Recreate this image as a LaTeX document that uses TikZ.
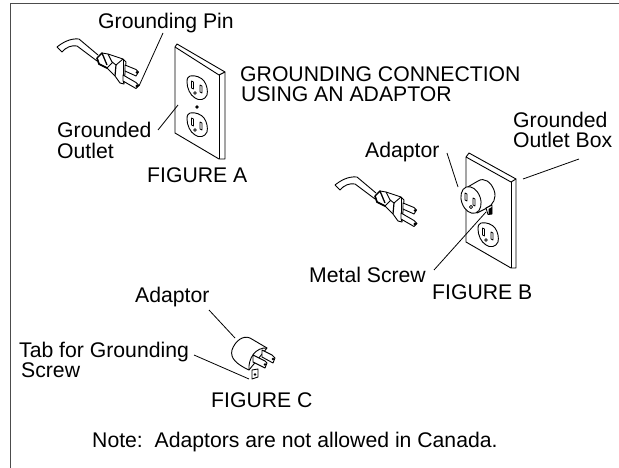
\documentclass[tikz,border=0pt]{standalone}
\usepackage{fontspec}
\setmainfont{Liberation Sans}
\newcommand{\plugshape}{%
  \draw[obj] (57,47) .. controls (62,43) and (70,38) .. (79,39) -- (98,55);
  \draw[obj] (57,47) -- (62,52) .. controls (66,47) and (72,45) .. (77,46) -- (97,61);
  \draw[obj,fill=white] (97,58) -- (102,53) -- (108,54) -- (123,59) -- (126,62) -- (124,84) -- (120,83) -- (115,76) -- (107,68) -- (99,64) -- cycle;
  \draw[line width=1.7pt,line join=round] (97,58) -- (99,64) -- (107,68);
  \draw[line width=1.3pt,line join=round] (97,58) -- (102,53) -- (107,65);
  \draw[obj] (108,54) -- (112,62) -- (116,65);
  \draw[obj] (107,68) -- (113,62);
  \draw[obj] (116,65) -- (123,59);
  \draw[line width=1.2pt] (116,65) -- (115,76);
  \draw[obj] (123,59) -- (123,83);
  \draw[obj,fill=white] (125,65) -- (136,69.5) -- (138.5,72) -- (136,76) -- (125,71) -- cycle;
  \draw[obj,fill=white] (123,75) -- (136,82.5) -- (139,85.5) -- (136,88.5) -- (123,81) -- cycle;
  \fill (137,72.5) circle (1.5) (137,86) circle (1.7);
}
\newcommand{\socket}[1]{%
  \begin{scope}[shift={(#1)}]
    \draw[obj] (-7,-12) .. controls (-2,-13) and (4,-11) .. (7,-7) .. controls (10,-3) and (11,3) .. (10,7) .. controls (8,12) and (2,13) .. (-2,10) .. controls (-7,7) and (-10,0) .. (-10,-6) .. controls (-10,-10) and (-9,-11) .. (-7,-12) -- cycle;
    \draw[slot] (-5.5,-7) -- (-5.5,0) -- (-3.5,1) -- (-3.5,-6) -- cycle;
    \draw[slot] (3,-3) -- (3,4) -- (5,5) -- (5,-2) -- cycle;
    \draw[slot] (-2,5) circle (1.4);
  \end{scope}}
\tikzset{
  lbl/.style={anchor=base west,inner sep=0pt,font=\fontsize{21.2}{24}\selectfont},
  obj/.style={line width=0.9pt,line join=round},
  slot/.style={line width=0.7pt,line join=round},
  lead/.style={line width=0.8pt},
  frame/.style={line width=1.2pt,draw=black!70}
}
\begin{document}
\begin{tikzpicture}[x=1pt,y=-1pt]
\useasboundingbox (0,0) rectangle (619,468);
\fill[white] (0,0) rectangle (619,468);
\coordinate (fa) at (10.5,468); \coordinate (fb) at (10.5,3.5); \coordinate (fc) at (619,3.5);
\draw[frame] (fa) -- (fb) -- (fc);

\plugshape
\begin{scope}[shift={(278,138)}]\plugshape\end{scope}

% outlet A
\draw[obj] (175,47) -- (177,44) -- (225,72) -- (225,159) -- (219,159) -- (175,133) -- cycle;
\draw[obj] (175,47) -- (219,75) -- (225,72);
\draw[obj] (219,75) -- (219,159);
\socket{197,88}
\socket{197,125}
\fill (197,107) circle (1.8);

% outlet B
\draw[obj] (466,157) -- (469,153) -- (516,179) -- (516,268) -- (511,268) -- (466,242) -- cycle;
\draw[obj] (466,157) -- (511,182) -- (516,179);
\draw[obj] (511,182) -- (511,268);
\socket{488,235}
% adaptor B
\draw[obj,fill=white] (466,188) -- (478,181) .. controls (484,177) and (491,182) .. (494,190) .. controls (497,198) and (493,205) .. (487,208) -- (477,213) -- cycle;
\draw[obj,fill=white] (486,208) -- (492,205) -- (492,214) -- (488,214.5) -- cycle;
\fill (488.5,209) -- (492,207) -- (492,214) -- (488.5,214.5) -- cycle;
\draw[obj,fill=white,rotate around={20:(471,200)}] (471,200) ellipse (9.5 and 13.8);
\draw[slot] (465,193) -- (465,200) -- (467,201) -- (467,194) -- cycle;
\draw[slot] (473,198) -- (473,205) -- (475,206) -- (475,199) -- cycle;
\draw[slot] (471,207) circle (1.6);

% adaptor C
\draw[obj,fill=white] (267,348) -- (250,338) .. controls (243,335) and (235,341) .. (232,350) .. controls (230,358) and (236,364) .. (249,370) -- cycle;
\draw[obj] (267,348) .. controls (256,347) and (248,358) .. (249,370);
\draw[obj,fill=white] (252,370) -- (258,369) -- (258,377) -- (252,379) -- cycle;
\fill (255,374.5) circle (1.3);
\draw[obj,fill=white] (262,350) -- (272,355) -- (275,358) -- (273,363) -- (262,357) -- cycle;
\draw[obj,fill=white] (253,355) -- (265,361) -- (267,363) -- (265,368) -- (253,362) -- cycle;
\fill (273,359) circle (1.4) (265,364.5) circle (1.4);

% labels
\node[lbl] (tpin) at (98,29) {Grounding Pin};
\node[lbl] (tgr) at (57,138) {Grounded};
\node[lbl] (tout) at (57,159) {Outlet};
\node[lbl] (tfa) at (147,183) {FIGURE A};
\node[lbl] (tcon) at (240,82) {GROUNDING CONNECTION};
\node[lbl] (tusi) at (241,102) {USING AN ADAPTOR};
\node[lbl] (tadb) at (365,158) {Adaptor};
\node[lbl] (tbox1) at (513,128) {Grounded};
\node[lbl] (tbox2) at (513,148) {Outlet Box};
\node[lbl] (tms) at (309,282) {Metal Screw};
\node[lbl] (tfb) at (432,299) {FIGURE B};
\node[lbl] (tadc) at (135,302) {Adaptor};
\node[lbl] (ttab) at (19,357) {Tab for Grounding};
\node[lbl] (tscr) at (21,377) {Screw};
\node[lbl] (tfc) at (211,407) {FIGURE C};
\node[lbl] (tnote) at (92,447) {Note:\ \ Adaptors are not allowed in Canada.};

% leaders
\coordinate (l1a) at (163,33); \coordinate (l1b) at (139,86);
\coordinate (l2a) at (158,130); \coordinate (l2b) at (178,105);
\coordinate (l3a) at (447,153); \coordinate (l3b) at (458,187);
\coordinate (l4a) at (523,179); \coordinate (l4b) at (579,159);
\coordinate (l5a) at (434,270); \coordinate (l5b) at (486,212);
\coordinate (l6a) at (209,310); \coordinate (l6b) at (235,338);
\coordinate (l7a) at (194,355); \coordinate (l7b) at (249,379);
\foreach \p/\q in {l1a/l1b,l2a/l2b,l3a/l3b,l4a/l4b,l5a/l5b,l6a/l6b,l7a/l7b}
  \draw[lead] (\p) -- (\q);
\end{tikzpicture}
\end{document}
